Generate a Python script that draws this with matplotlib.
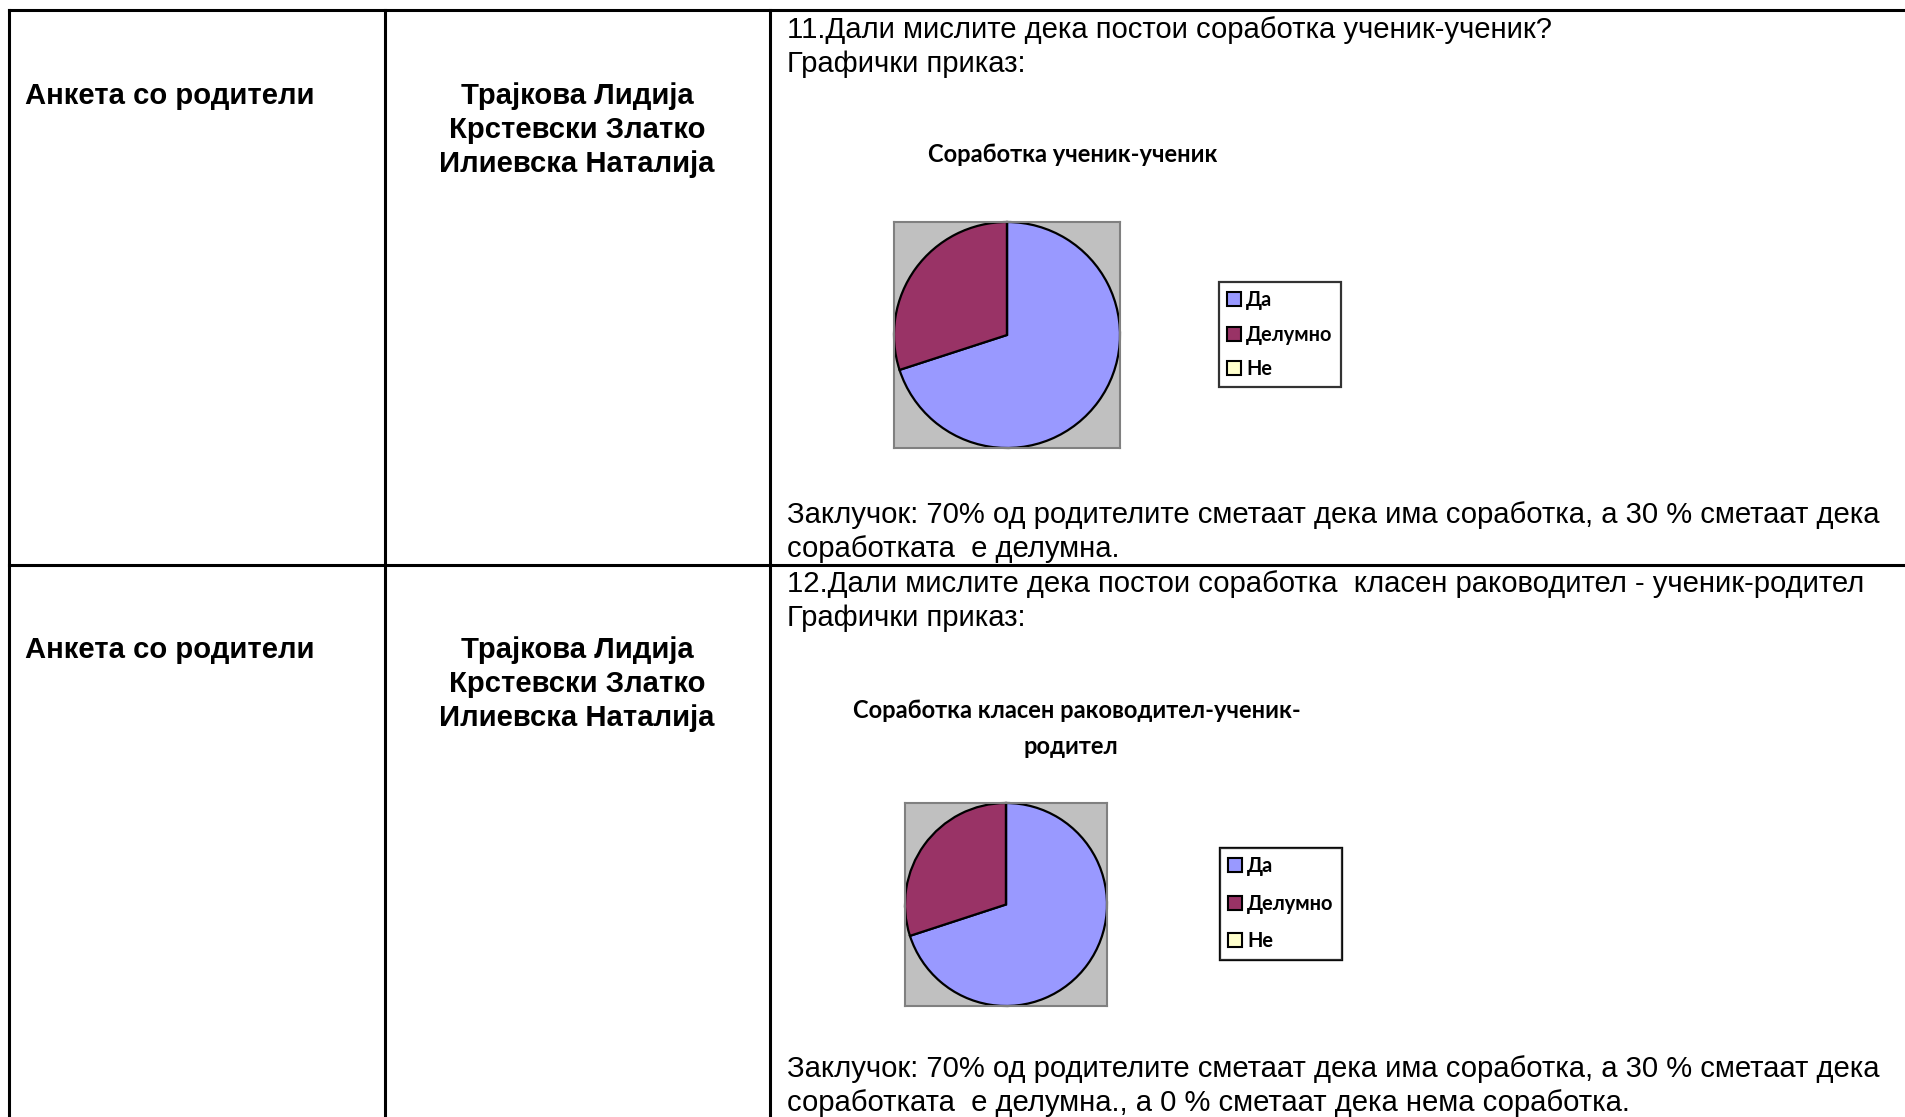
import matplotlib
matplotlib.use('Agg')
import matplotlib.pyplot as plt

# податоци за двата кружни дијаграми
labels = ['Да', 'Делумно', 'Не']
values_q11 = [70, 30, 0]
values_q12 = [70, 30, 0]
colors = ['#9999FF', '#993366', '#FFFFCC']

survey_name = 'Анкета со родители'
authors = ['Трајкова Лидија', 'Крстевски Златко', 'Илиевска Наталија']

q11 = '11.Дали мислите дека постои соработка ученик-ученик?'
q12 = '12.Дали мислите дека постои соработка  класен раководител - ученик-родител'
subtitle = 'Графички приказ:'
title11 = 'Соработка ученик-ученик'
title12 = ['Соработка класен раководител-ученик-', 'родител']
concl11 = ['Заклучок: 70% од родителите сметаат дека има соработка, а 30 % сметаат дека',
           'соработката  е делумна.']
concl12 = ['Заклучок: 70% од родителите сметаат дека има соработка, а 30 % сметаат дека',
           'соработката  е делумна., а 0 % сметаат дека нема соработка.']

W, H = 1905, 1117
fig = plt.figure(figsize=(W / 100, H / 100), dpi=100)
fig.patch.set_facecolor('white')

# позадина во пиксели за табелата и текстот
ax0 = fig.add_axes([0, 0, 1, 1])
ax0.set_xlim(0, W)
ax0.set_ylim(H, 0)
ax0.axis('off')

# линии на табелата
lw = 2.2
ax0.plot([9, W], [10, 10], color='black', lw=lw)
ax0.plot([9, W], [565, 565], color='black', lw=lw)
for x in [9, 385, 770]:
    ax0.plot([x, x], [10, H], color='black', lw=lw)

body = 'Liberation Sans'
chart_font = 'Lato'
fs = 21.1

rows = [
    dict(top=0, q=q11, concl=concl11),
    dict(top=554, q=q12, concl=concl12),
]
for r in rows:
    t = r['top']
    ax0.text(25, t + 96, survey_name, family=body, fontweight='bold', fontsize=fs, va='center')
    for i, name in enumerate(authors):
        ax0.text(577, t + 96 + i * 34, name, family=body, fontweight='bold', fontsize=fs,
                 ha='center', va='center')
    ax0.text(787, t + 30, r['q'], family=body, fontsize=fs, va='center')
    ax0.text(787, t + 64, subtitle, family=body, fontsize=fs, va='center')
    ax0.text(787, t + 515, r['concl'][0], family=body, fontsize=fs, va='center')
    ax0.text(787, t + 549, r['concl'][1], family=body, fontsize=fs, va='center')

# наслови на дијаграмите
tfs = 17.0
ax0.text(1073, 155, title11, family=chart_font, fontweight='bold', fontsize=tfs,
         ha='center', va='center')
ax0.text(1077, 710, title12[0], family=chart_font, fontweight='bold', fontsize=tfs,
         ha='center', va='center')
ax0.text(1071, 746, title12[1], family=chart_font, fontweight='bold', fontsize=tfs,
         ha='center', va='center')


def draw_pie(box, values, legend_xy, spacing):
    x0, y0, x1, y1 = box
    ax = fig.add_axes([x0 / W, 1 - y1 / H, (x1 - x0) / W, (y1 - y0) / H])
    wedges, _ = ax.pie(values, colors=colors, startangle=90, counterclock=False,
                       radius=1.0, wedgeprops=dict(edgecolor='black', linewidth=1.6))
    ax.set_xlim(-1.0, 1.0)
    ax.set_ylim(-1.0, 1.0)
    ax.set_aspect('auto')
    ax.set_frame_on(True)
    ax.set_facecolor('#C0C0C0')
    ax.set_xticks([])
    ax.set_yticks([])
    for s in ax.spines.values():
        s.set_visible(True)
        s.set_edgecolor('#808080')
        s.set_linewidth(1.5)
    leg = ax0.legend(wedges, labels, loc='upper left', bbox_to_anchor=legend_xy,
                     bbox_transform=ax0.transData, frameon=True, fancybox=False,
                     prop=dict(family=chart_font, weight='bold', size=14.3),
                     handlelength=0.7, handleheight=0.7, handletextpad=0.25,
                     labelspacing=spacing, borderpad=0.42, borderaxespad=0)
    leg.get_frame().set_edgecolor('black')
    leg.get_frame().set_linewidth(1.6)
    for h in leg.legend_handles:
        h.set_edgecolor('black')
        h.set_linewidth(1.5)
    ax0.add_artist(leg)


draw_pie((894, 222, 1120, 448), values_q11, (1219, 282), 0.72)
draw_pie((905, 803, 1107, 1006), values_q12, (1220, 848), 0.88)

fig.savefig('out.png', dpi=100, facecolor='white')
